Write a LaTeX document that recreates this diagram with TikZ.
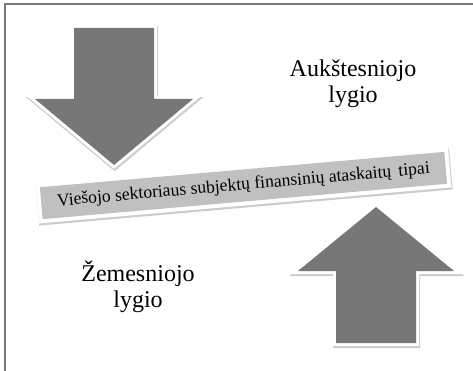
\documentclass[tikz,border=0pt]{standalone}
\usepackage{fontspec}
\setmainfont{Liberation Serif}

\definecolor{arrowgray}{HTML}{777777}
\definecolor{bannergray}{HTML}{C0C0C0}
\definecolor{framegray}{HTML}{777777}

\tikzset{
  shade below/.style={preaction={draw=black!20, line width=#1, transform canvas={xshift=0.6pt, yshift=-1.6pt}}},
  bigarrow/.style={fill=arrowgray, shade below=7pt, preaction={draw=white, line width=6pt}},
  banner/.style={fill=bannergray, shade below=9pt, preaction={draw=white, line width=8pt},
                 minimum width=406pt, minimum height=32pt, inner sep=0pt,
                 font=\fontsize{17.6}{20}\selectfont},
  level/.style={align=center, font=\fontsize{24}{26}\selectfont}
}

\begin{document}
\begin{tikzpicture}[x=1pt,y=-1pt]
  \useasboundingbox (0,0) rectangle (473,371);
  \draw[framegray, line width=1.2pt] (473,4) -- (5,4) -- (5,371);
  % arrows
  \path[bigarrow] (74,28) -- (154,28) -- (154,99) -- (193,99) -- (114,165) -- (35,99) -- (74,99) -- cycle;
  \path[bigarrow] (336,343) -- (416,343) -- (416,271) -- (454,271) -- (376,207) -- (298,271) -- (336,271) -- cycle;
  \node[banner, rotate=5] (tipai) at (243.5,185.5) {Viešojo sektoriaus subjektų finansinių ataskaitų\, tipai};
  \node[level] (aukst) at (353,84) {Aukštesniojo\\lygio};
  \node[level] (zem) at (138,287) {Žemesniojo\\lygio};
\end{tikzpicture}
\end{document}
